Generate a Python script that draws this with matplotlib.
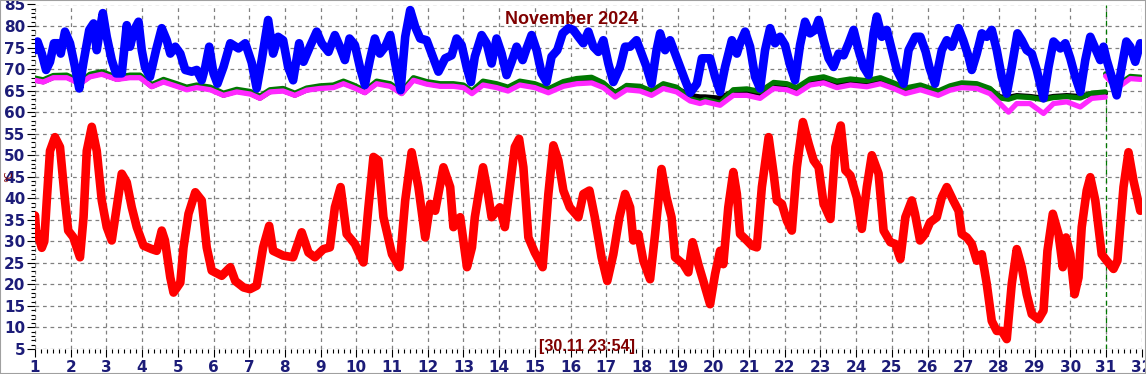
"""
November 2024 sensor chart (humidity / temperatures) recreation.
"""

import numpy as np
import matplotlib
matplotlib.use('Agg')
import matplotlib.pyplot as plt
from matplotlib.ticker import MultipleLocator
from matplotlib.patches import Rectangle

# ---- data (day of month, value) ----
red_days = [1.00, 1.03, 1.10, 1.19, 1.26, 1.33, 1.42, 1.56, 1.70, 1.84, 1.93, 2.07, 2.26, 2.36, 2.45,
            2.59, 2.73, 2.87, 3.01, 3.15, 3.29, 3.43, 3.57, 3.71, 3.85, 4.04, 4.27, 4.41, 4.55, 4.64,
            4.79, 4.88, 5.07, 5.16, 5.30, 5.49, 5.67, 5.81, 5.95, 6.23, 6.47, 6.61, 6.84, 7.02, 7.21,
            7.39, 7.56, 7.67, 7.95, 8.23, 8.47, 8.66, 8.84, 9.08, 9.26, 9.40, 9.56, 9.73, 9.96, 10.20,
            10.34, 10.48, 10.62, 10.76, 11.00, 11.21, 11.37, 11.55, 11.74, 11.93, 12.07, 12.21, 12.44,
            12.63, 12.72, 12.91, 13.10, 13.24, 13.32, 13.55, 13.69, 13.79, 14.02, 14.16, 14.30, 14.44,
            14.56, 14.68, 14.82, 15.00, 15.22, 15.38, 15.52, 15.66, 15.80, 15.98, 16.22, 16.36, 16.53,
            16.68, 16.87, 17.03, 17.20, 17.37, 17.53, 17.67, 17.76, 17.90, 18.04, 18.23, 18.37, 18.55,
            18.69, 18.83, 18.93, 19.16, 19.30, 19.42, 19.58, 19.72, 19.91, 20.05, 20.19, 20.28, 20.42,
            20.56, 20.66, 20.75, 20.94, 21.08, 21.22, 21.36, 21.55, 21.69, 21.78, 21.92, 22.06, 22.20,
            22.34, 22.51, 22.67, 22.81, 22.95, 23.09, 23.28, 23.42, 23.57, 23.70, 23.84, 24.02, 24.16,
            24.30, 24.44, 24.63, 24.77, 24.96, 25.10, 25.24, 25.38, 25.56, 25.65, 25.79, 25.93, 26.07,
            26.26, 26.40, 26.54, 26.72, 26.87, 26.96, 27.10, 27.24, 27.38, 27.52, 27.66, 27.80, 27.94,
            28.08, 28.22, 28.36, 28.50, 28.64, 28.78, 28.92, 29.11, 29.25, 29.36, 29.51, 29.67, 29.79,
            29.88, 30.00, 30.12, 30.23, 30.32, 30.46, 30.56, 30.70, 30.88, 31.02, 31.21, 31.32, 31.49,
            31.63, 31.77, 31.96]
red_vals = [36.0, 32.5, 31.0, 28.5, 30.0, 39.5, 51.0, 54.2, 51.9, 39.5, 32.5, 31.0, 26.3, 35.6, 51.0,
            56.6, 51.0, 39.5, 33.3, 30.2, 37.9, 45.7, 43.7, 37.9, 33.3, 29.0, 28.2, 27.8, 32.5, 30.2,
            21.6, 18.1, 20.4, 28.6, 36.4, 41.4, 39.5, 28.6, 23.2, 22.0, 24.0, 20.8, 19.3, 18.9, 19.7,
            28.6, 33.6, 27.8, 26.7, 26.3, 32.1, 27.4, 26.3, 28.2, 28.6, 37.9, 42.6, 31.7, 29.4, 25.1,
            37.9, 49.6, 48.8, 35.6, 27.0, 24.0, 39.5, 50.7, 42.6, 30.9, 38.7, 37.1, 47.2,
            42.6, 33.3, 35.6, 24.0, 28.6, 35.6, 47.2, 41.0, 35.6, 37.9, 33.3, 42.6, 51.9,
            53.8, 47.2, 30.9, 27.4, 24.0, 41.0, 52.3, 48.8, 41.8, 37.9, 35.6, 41.0, 41.8,
            35.6, 26.3, 20.8, 27.0, 35.6, 41.0, 37.9, 30.2, 31.7, 25.5, 21.2, 31.7, 46.8,
            40.2, 35.6, 26.3, 24.7, 22.8, 29.8, 24.7, 20.8, 15.4, 22.4, 27.8, 24.7, 37.9,
            46.1, 41.0, 31.7, 30.2, 29.0, 28.6, 42.6, 54.2, 45.7, 39.5, 38.7, 34.8, 32.5,
            47.2, 57.7, 52.7, 48.8, 47.2, 38.7, 35.2, 51.9, 56.9, 46.5, 45.3, 40.2, 32.9,
            42.6, 50.0, 45.7, 32.5, 29.8, 29.4, 25.9, 35.6, 39.5, 36.4, 30.2, 31.7, 34.4,
            35.6, 40.2, 42.6, 39.5, 37.1, 31.7, 30.9, 29.4, 25.5, 27.0, 20.1, 11.5, 9.2,
            9.2, 7.3, 20.1, 28.2, 24.0, 17.7, 13.1, 11.9, 13.9, 27.8, 36.4, 31.7, 24.0,
            30.9, 27.0, 17.7, 21.6, 33.3, 41.8, 44.9, 39.5, 27.0, 25.5, 23.6, 25.5, 42.6,
            50.7, 44.1, 37.1]

blue_days = [1.00, 1.07, 1.19, 1.31, 1.42, 1.53, 1.65, 1.72, 1.84, 1.98, 2.12, 2.24, 2.36, 2.52, 2.64,
             2.73, 2.83, 2.90, 3.01, 3.15, 3.27, 3.43, 3.57, 3.66, 3.78, 3.90, 3.99, 4.08, 4.22, 4.39,
             4.55, 4.69, 4.79, 4.93, 5.07, 5.21, 5.39, 5.53, 5.67, 5.77, 5.88, 6.00, 6.11, 6.28, 6.47,
             6.70, 6.89, 7.07, 7.21, 7.35, 7.53, 7.67, 7.81, 7.95, 8.09, 8.23, 8.40, 8.52, 8.70, 8.89,
             9.03, 9.22, 9.40, 9.54, 9.68, 9.81, 9.96, 10.10, 10.24, 10.38, 10.52, 10.66, 10.81, 10.95,
             11.09, 11.24, 11.37, 11.51, 11.65, 11.79, 11.97, 12.11, 12.30, 12.49, 12.67, 12.81, 12.95,
             13.09, 13.21, 13.32, 13.51, 13.65, 13.79, 13.93, 14.07, 14.21, 14.35, 14.49, 14.66, 14.77,
             14.91, 15.05, 15.19, 15.33, 15.47, 15.63, 15.78, 15.94, 16.08, 16.22, 16.36, 16.50, 16.64,
             16.78, 16.92, 17.06, 17.20, 17.39, 17.53, 17.67, 17.85, 17.99, 18.13, 18.27, 18.41, 18.51,
             18.65, 18.79, 18.93, 19.07, 19.21, 19.35, 19.54, 19.68, 19.91, 20.05, 20.19, 20.33, 20.52,
             20.66, 20.75, 20.89, 21.03, 21.17, 21.31, 21.45, 21.59, 21.73, 21.87, 22.01, 22.15, 22.29,
             22.43, 22.57, 22.71, 22.85, 22.95, 23.09, 23.23, 23.37, 23.51, 23.65, 23.79, 23.93, 24.07,
             24.21, 24.35, 24.49, 24.58, 24.72, 24.86, 25.00, 25.14, 25.33, 25.47, 25.66, 25.80, 25.95,
             26.05, 26.21, 26.40, 26.54, 26.68, 26.87, 27.00, 27.15, 27.24, 27.38, 27.52, 27.66, 27.80,
             27.94, 28.08, 28.22, 28.36, 28.52, 28.64, 28.78, 28.92, 29.06, 29.25, 29.39, 29.53, 29.72,
             29.86, 30.00, 30.14, 30.28, 30.42, 30.56, 30.70, 30.84, 30.93, 31.02, 31.16, 31.30, 31.44,
             31.57, 31.68, 31.82, 31.96]
blue_vals = [74.4, 76.4, 73.6, 69.8, 71.7, 76.0, 76.0, 73.6, 78.7, 76.0, 70.5, 65.5, 71.7, 79.1, 80.6,
             74.4, 79.8, 83.0, 77.5, 72.1, 69.0, 69.0, 80.2, 75.2, 79.1, 81.0, 74.4, 70.5, 68.2, 74.4,
             79.5, 76.7, 73.6, 75.2, 73.6, 69.8, 69.4, 69.8, 67.4, 70.5, 75.2, 69.0, 66.6, 70.5, 76.0,
             74.8, 76.0, 71.5, 65.5, 72.1, 81.4, 73.6, 77.5, 76.7, 70.5, 67.4, 76.0, 71.7, 75.2, 78.7,
             76.0, 74.0, 77.9, 75.2, 72.1, 77.1, 75.6, 70.5, 66.3, 72.1, 77.1, 73.6, 75.2, 77.9,
             71.3, 65.1, 77.5, 83.7, 79.8, 77.1, 76.7, 73.6, 69.4, 72.5, 73.2, 77.1, 75.6,
             70.5, 67.0, 72.9, 77.9, 76.0, 71.3, 77.1, 73.6, 68.6, 71.7, 75.2, 72.1, 74.8,
             77.9, 74.4, 69.0, 67.0, 72.9, 74.4, 78.3, 79.5, 79.1, 77.5, 76.0, 78.7, 75.2,
             74.0, 76.7, 71.3, 67.0, 70.5, 75.2, 75.2, 76.7, 73.6, 70.5, 66.6, 74.4, 78.3,
             74.4, 76.7, 73.6, 70.5, 67.4, 64.5, 66.6, 72.5, 72.5, 68.2, 64.7, 70.5, 76.7,
             73.6, 76.0, 78.7, 75.2, 68.2, 65.5, 74.4, 79.5, 76.0, 77.5, 75.6, 70.9, 67.4,
             75.6, 81.0, 78.3, 79.1, 81.4, 76.7, 72.5, 70.5, 73.6, 73.2, 76.0, 79.1, 74.4,
             70.5, 68.6, 78.3, 82.2, 77.5, 79.1, 74.4, 69.8, 66.6, 74.4, 77.5, 77.5, 74.0,
             70.5, 66.6, 74.4, 76.7, 75.2, 79.5, 76.7, 72.9, 69.8, 73.6, 78.3, 77.5, 79.1,
             74.4, 68.2, 64.3, 70.5, 78.3, 76.7, 74.4, 73.6, 69.8, 63.2, 70.5, 76.4, 74.8,
             76.0, 72.5, 68.2, 64.7, 72.1, 77.5, 74.8, 72.1, 75.2, 72.1, 68.2, 63.9, 70.5,
             76.4, 75.2, 71.7, 76.0]

# the three lower lines share the same sample days; NaN splits them at the month boundary
low_days = [1.00, 1.23, 1.51, 1.89, 2.26, 2.54, 2.87, 3.29, 3.66, 3.94, 4.27, 4.60, 4.97, 5.25,
            5.53, 5.91, 6.28, 6.65, 7.03, 7.30, 7.58, 7.95, 8.28, 8.61, 8.98, 9.36, 9.64, 9.92,
            10.24, 10.57, 10.95, 11.27, 11.60, 11.97, 12.35, 12.72, 13.00, 13.24, 13.55, 13.93,
            14.25, 14.58, 15.00, 15.38, 15.80, 16.17, 16.59, 16.92, 17.25, 17.57, 17.95, 18.27,
            18.60, 18.97, 19.35, 19.63, 19.77, 20.19, 20.56, 20.94, 21.31, 21.69, 22.06, 22.34,
            22.71, 23.09, 23.46, 23.84, 24.30, 24.68, 25.05, 25.38, 25.80, 26.30, 26.63, 26.96,
            27.38, 27.75, 28.03, 28.27, 28.50, 28.87, 29.25, 29.53, 29.90, 30.28, 30.60, 30.98,
            30.985, 30.99, 31.30, 31.68, 31.98]
magenta_vals = [67.4, 67.0, 68.0, 68.0, 66.6, 68.2, 68.8, 67.6, 68.0, 68.0, 65.9, 67.0, 66.0, 65.2,
                65.7, 65.2, 63.9, 64.7, 64.2, 63.2, 64.7, 64.9, 63.9, 65.1, 65.5, 65.7, 66.6, 65.7,
                64.5, 66.6, 66.0, 64.3, 67.4, 66.5, 66.0, 66.0, 65.7, 64.3, 66.3, 65.7,
                64.9, 66.3, 65.7, 64.5, 66.0, 66.6, 66.8, 65.7, 63.5, 65.2, 64.9, 63.9,
                65.5, 64.7, 62.6, 62.0, 62.4, 61.6, 63.9, 63.9, 63.2, 65.5, 65.2, 64.3,
                66.3, 66.8, 65.7, 66.3, 65.9, 66.6, 65.5, 64.3, 65.2, 63.9, 65.1, 65.7,
                65.5, 64.3, 62.0, 60.0, 62.0, 62.0, 59.7, 62.0, 62.4, 61.2, 63.2, 63.5,
                np.nan, 68.4, 65.5, 67.8, 67.6]
green_vals = [67.9, 67.5, 68.5, 68.6, 67.1, 68.8, 69.4, 68.1, 68.6, 68.6, 66.4, 67.6, 66.6, 65.8,
              66.3, 65.8, 64.4, 65.3, 64.8, 63.7, 65.2, 65.5, 64.4, 65.6, 66.1, 66.3, 67.2, 66.3,
              65.0, 67.2, 66.6, 64.8, 68.0, 67.1, 66.6, 66.6, 66.3, 64.9, 67.2, 66.6,
              65.8, 67.2, 66.6, 65.4, 67.1, 67.8, 68.1, 66.8, 64.4, 66.2, 66.0, 64.9,
              66.6, 65.8, 63.1, 62.5, 62.9, 62.1, 65.2, 65.4, 64.8, 66.9, 66.6, 65.7,
              67.7, 68.2, 67.2, 67.7, 67.3, 68.0, 66.8, 65.6, 66.3, 64.9, 66.1, 66.8,
              66.6, 65.5, 63.3, 63.0, 63.6, 63.4, 62.9, 63.4, 63.6, 63.3, 64.4, 64.7,
              np.nan, 68.9, 66.1, 68.3, 68.1]
black_vals = [67.5, 67.1, 68.1, 68.2, 66.7, 68.4, 69.0, 67.7, 68.2, 68.2, 66.0, 67.2, 66.2, 65.4,
              65.9, 65.4, 64.0, 64.9, 64.4, 63.3, 64.8, 65.1, 64.0, 65.2, 65.7, 65.9, 66.8, 65.9,
              64.6, 66.8, 66.2, 64.4, 67.6, 66.7, 66.2, 66.2, 65.9, 64.6, 66.9, 66.2,
              65.5, 66.9, 66.2, 65.1, 66.7, 67.4, 67.7, 66.5, 64.5, 65.9, 65.7, 64.8,
              66.2, 65.5, 63.8, 63.5, 63.5, 63.2, 64.8, 65.0, 64.4, 66.5, 66.2, 65.3,
              67.3, 67.8, 66.8, 67.3, 66.9, 67.6, 66.4, 65.2, 65.9, 64.5, 65.7, 66.4,
              66.2, 65.3, 63.5, 63.4, 63.8, 63.6, 63.2, 63.6, 63.8, 63.6, 64.3, 64.4,
              np.nan, np.nan, np.nan, np.nan, np.nan]

now_day = 31.0
title_text = 'November 2024'
stamp_text = '[30.11 23:54]'

W, H = 1146, 374
fig = plt.figure(figsize=(W / 100, H / 100), dpi=100)
fig.patch.set_facecolor('white')
ax = fig.add_axes([35 / W, 25 / H, (1141.7 - 35) / W, (369.5 - 25) / H])

line_kw = dict(solid_joinstyle='round', solid_capstyle='round')
ax.plot(low_days, black_vals, color='black', lw=4.0, zorder=3, **line_kw)
ax.plot(low_days, green_vals, color='#007800', lw=3.8, zorder=4, **line_kw)
ax.plot(low_days, magenta_vals, color='#ff28ff', lw=3.8, zorder=5, **line_kw)
ax.plot(blue_days, blue_vals, color='#0000ff', lw=6.2, zorder=6, **line_kw)
ax.plot(red_days, red_vals, color='#ff0000', lw=6.2, zorder=7, **line_kw)

ax.axvline(now_day, color='#007800', lw=0.9, ls=(0, (4, 3)), zorder=2)

ax.set_xlim(1, 32)
ax.set_ylim(5, 85)
ax.xaxis.set_major_locator(MultipleLocator(1))
ax.xaxis.set_minor_locator(MultipleLocator(1 / 6))
ax.yaxis.set_major_locator(MultipleLocator(5))
ax.yaxis.set_minor_locator(MultipleLocator(1))

ax.grid(True, which='major', color='#808080', lw=0.9, ls=(0, (3, 3)), zorder=1)
for s in ax.spines.values():
    s.set_visible(False)

navy = '#1c1c78'
ax.tick_params(which='major', direction='out', length=6, width=0.8, color='black',
               labelcolor=navy, labelsize=11)
ax.tick_params(which='minor', direction='out', length=3, width=0.8, color='black')
ax.tick_params(axis='x', which='major', pad=2)
ax.tick_params(axis='y', which='major', pad=1)
for lab in ax.get_xticklabels() + ax.get_yticklabels():
    lab.set_fontweight('bold')
    lab.set_family('DejaVu Sans')

# title and time stamp
fig.text(572 / W, 1 - 20 / H, title_text, ha='center', va='center', color='#800000',
         fontsize=13, fontweight='bold', family='Liberation Sans')
fig.text(587 / W, 1 - 346 / H, stamp_text, ha='center', va='center', color='#800000',
         fontsize=11.5, fontweight='bold', family='Liberation Sans')
# small unit marker, partly hidden by the tick labels as in the original
fig.text(9 / W, 1 - 176 / H, '°C', ha='center', va='center', color='#800000',
         fontsize=7, rotation=90, zorder=0)

fig.patches.append(Rectangle((0, 0), 1, 1, transform=fig.transFigure, fill=False,
                             edgecolor='#a0a0a0', lw=1.5))

plt.savefig('out.png', dpi=100)
plt.close()
